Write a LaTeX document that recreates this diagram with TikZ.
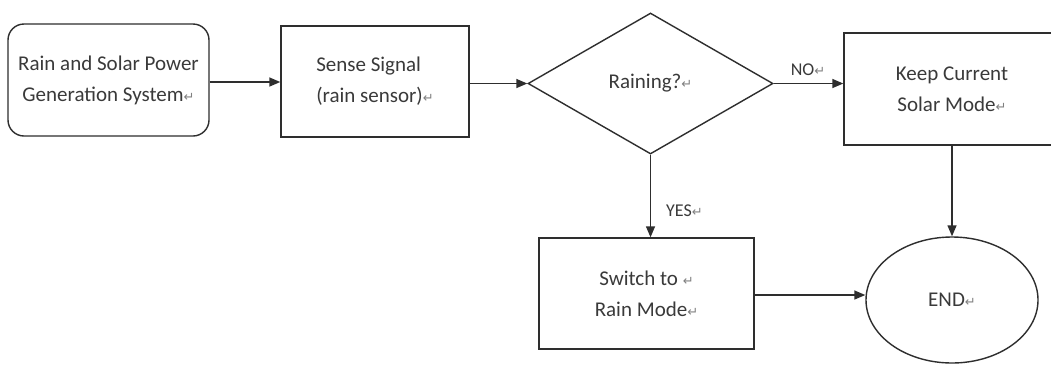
\documentclass[tikz,border=0pt]{standalone}
\usepackage{fontspec}
\setmainfont{Carlito}
\newfontfamily\symfont{DejaVu Sans}
\usetikzlibrary{shapes.geometric,arrows.meta}
\definecolor{linec}{HTML}{2E2E2E}
\definecolor{textc}{HTML}{3A3A3A}
\newcommand{\retmark}{{\symfont\fontsize{13}{13}\selectfont\textcolor{gray}{↵}}}
\begin{document}
\begin{tikzpicture}[x=1pt,y=-1pt,
  shp/.style={draw=linec, line width=1.4pt, inner sep=0pt, align=center,
    font=\fontsize{21}{31}\selectfont, text=textc},
  stepbox/.style={shp, rectangle},
  lbl/.style={font=\fontsize{18}{20}\selectfont, text=textc, inner sep=0pt},
  arr/.style={draw=linec, line width=1.4pt, -{Triangle[length=11pt,width=9pt]}}]
\useasboundingbox (0,0) rectangle (1051,365);
\fill[white] (0,0) rectangle (1051,365);
\clip (0,0) rectangle (1051,365);

\node[shp, rectangle, rounded corners=16pt, minimum width=201pt, minimum height=112pt]
  (sys) at (108.5,80) {Rain and Solar Power\\Generation System\retmark};
\node[stepbox, minimum width=188pt, minimum height=111pt, align=left]
  (sense) at (375,81.5) {Sense Signal\\(rain sensor)\retmark};
\node[shp, diamond, aspect=1.74, minimum width=245pt, minimum height=141pt]
  (rain) at (650.5,83.5) {Raining?\retmark};
% box runs past the right edge of the picture, as in the reference
\node[stepbox, minimum width=264pt, minimum height=112pt]
  (keepbox) at (976,89) {};
\node[shp, draw=none, minimum width=216pt, minimum height=112pt]
  (keep) at (952,89) {Keep Current\\Solar Mode\retmark};
\node[stepbox, minimum width=215pt, minimum height=111pt]
  (switch) at (646.5,293.5) {Switch to \retmark\\Rain Mode\retmark};
\node[shp, ellipse, minimum width=172pt, minimum height=126pt]
  (end) at (952,300) {END\retmark};

\draw[arr] (sys.east |- 0,82) -- (sense.west |- 0,82);
\draw[arr] (sense.east |- rain.west) -- (rain.west);
\draw[arr] (rain.east) -- (keepbox.west |- rain.east);
\node[lbl, anchor=center] (no) at (808,70) {NO\retmark};
\draw[arr] (keep.south) -- (end.north);
\draw[arr] (rain.south) -- (rain.south |- switch.north);
\node[lbl, anchor=west] (yes) at (666,211) {YES\retmark};
\draw[arr] (switch.east |- 0,295) -- (end.west |- 0,295);
\end{tikzpicture}
\end{document}
